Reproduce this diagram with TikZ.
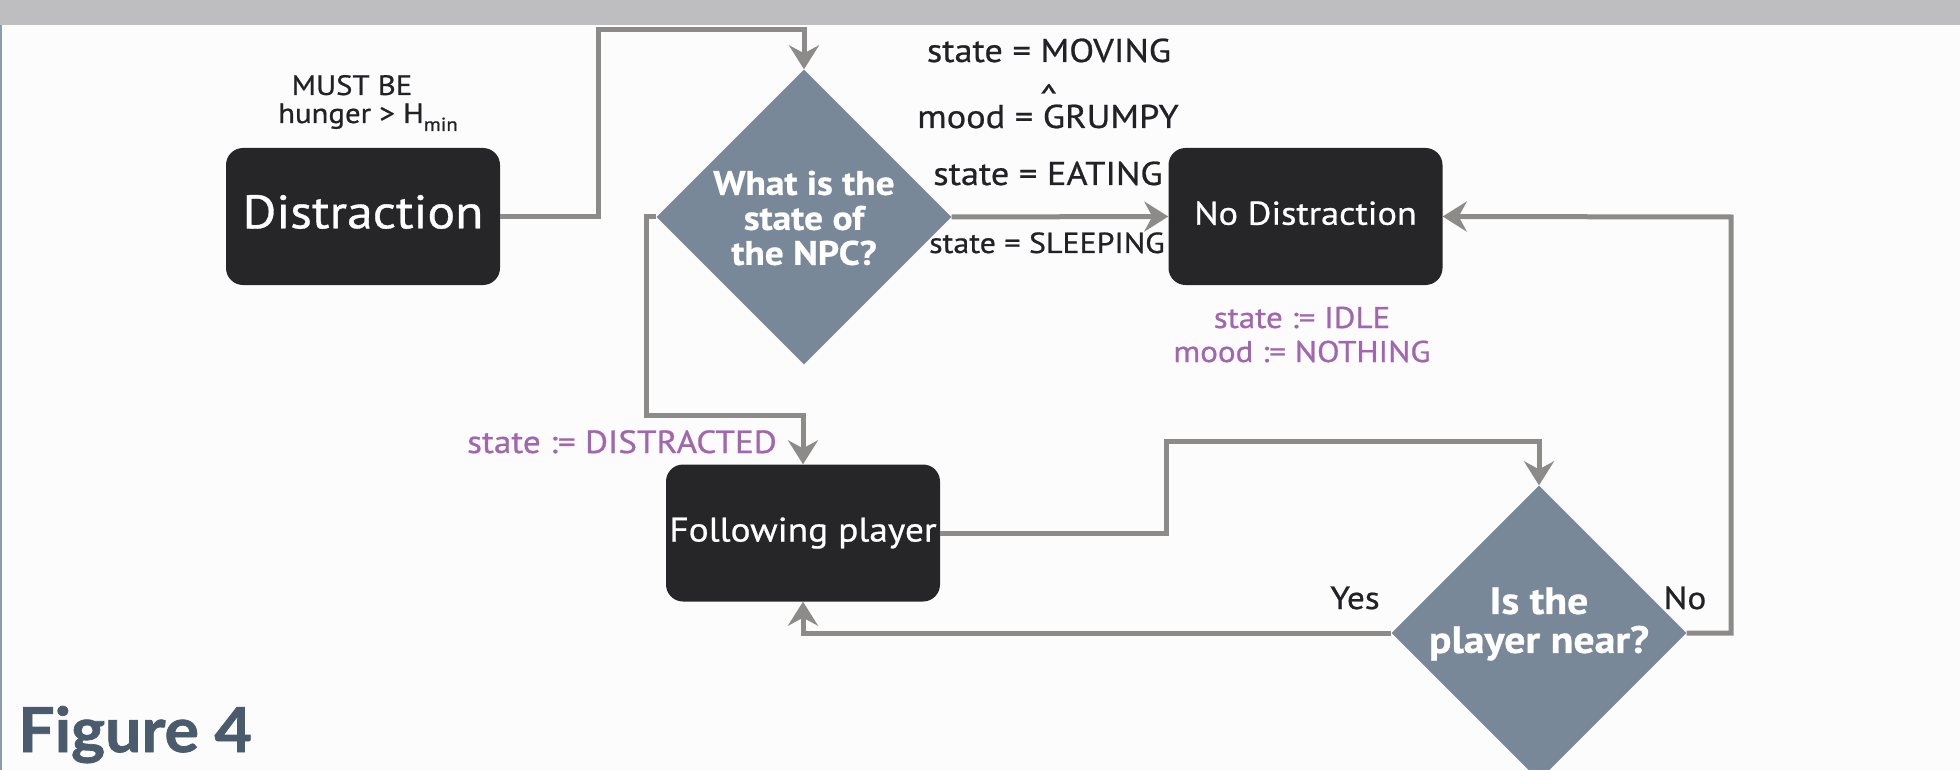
\documentclass[tikz,border=0pt]{standalone}
\usepackage{fontspec}
\setmainfont{PT Sans}[FakeStretch=1.1, FakeBold=0.7]
\newfontfamily\figfont{Lato}[FakeBold=1.2, FakeStretch=1.04]
\usetikzlibrary{shapes.geometric,arrows.meta}
\definecolor{bgc}{HTML}{FCFCFC}
\definecolor{bandc}{HTML}{BEBEC0}
\definecolor{boxc}{HTML}{262528}
\definecolor{diac}{HTML}{798899}
\definecolor{linec}{HTML}{8C8B8A}
\definecolor{txtc}{HTML}{222226}
\definecolor{purpc}{HTML}{A265AF}
\definecolor{figc}{HTML}{4B5B6E}
\definecolor{edgec}{HTML}{8A9AB0}
\newcommand\fsz[1]{\fontsize{#1}{#1}\selectfont}
\begin{document}
\begin{tikzpicture}[x=1pt,y=-1pt,
  box/.style={rounded corners=17pt, fill=boxc, text=white, minimum width=274pt, minimum height=137pt, inner sep=0pt},
  dia/.style={diamond, fill=diac, minimum width=295pt, minimum height=295pt, inner sep=0pt, aspect=1},
  dtext/.style={text=white, align=center, inner sep=0pt},
  conn/.style={draw=linec, line width=5pt},
  arr/.style={conn, -{Stealth[length=24pt,width=30pt,inset=8pt]}},
  lbl/.style={text=txtc, inner sep=0pt, anchor=base},
  plbl/.style={text=purpc, inner sep=0pt, anchor=base}
]
\useasboundingbox (0,0) rectangle (1960,770);
\clip (0,0) rectangle (1960,770);
\fill[bgc] (0,0) rectangle (1960,770);
\fill[bandc] (0,0) rectangle (1960,25);
\fill[edgec] (0,25) rectangle (2,770);

% boxes
\node[box, font=\fsz{47}, text height=33pt, text depth=9.4pt] (dist) at (363,216.5) {Distraction};
\node[box, font=\fsz{33}, text height=23.1pt, text depth=6.6pt] (nodist) at (1305.5,216.5) {No Distraction};
\node[box, font=\fsz{34}, text height=23.8pt, text depth=6.8pt] (follow) at (803,533) {Following player};

% diamonds
\node[dia] (d1) at (804,217) {};
\node[dtext, font=\bfseries\fontsize{34}{35}\selectfont] (d1t) at (804,218) {What is the\\state of\\the NPC?};
\node[dia] (d2) at (1539,633) {};
\node[dtext, font=\bfseries\fontsize{38}{39}\selectfont] (d2t) at (1539,624) {Is the\\player near?};

% labels
\node[lbl, font=\fsz{28}] (must) at (352,95) {MUST BE};
\node[lbl, font=\fsz{28}] (hung) at (368,123) {hunger > H\raisebox{-8pt}{\fsz{19}min}};
\node[lbl, font=\fsz{33}] (lmov) at (1049,62) {state = MOVING};
\node[lbl, font=\fsz{34}] (lcar) at (1049,94) {\raisebox{-0.42em}{\textasciicircum}};
\node[lbl, font=\fsz{33}] (lgru) at (1048,128) {mood = GRUMPY};
\node[lbl, font=\fsz{33}] (leat) at (1048,185) {state = EATING};
\node[lbl, font=\fsz{29}] (lsle) at (1047,253) {state = SLEEPING};
\node[plbl, font=\fsz{30}] (lidle) at (1302,328) {state := IDLE};
\node[plbl, font=\fsz{30}] (lnoth) at (1302,362) {mood := NOTHING};
\node[plbl, font=\fsz{32}] (ldis) at (622,453) {state := DISTRACTED};
\node[lbl, font=\fsz{32}] (lyes) at (1355,609) {Yes};
\node[lbl, font=\fsz{32}] (lno) at (1685,609) {No};
\node[text=figc, inner sep=0pt, anchor=base west, font=\figfont\bfseries\fsz{62}] (fig) at (18,752) {Figure 4};

% connectors
\coordinate (c1) at (598,30);
\coordinate (c2) at (646,415);
\coordinate (c3) at (1166,441);
\coordinate (c4) at (1731,633);
\coordinate (c5) at (1731,217);
\draw[arr] (dist.east) -| (c1) -| (d1.north);
\draw[arr] (d1.east) -- (nodist.west);
\draw[arr] (d1.west) -| (c2) -| (follow.north);
\draw[arr] (follow.east) -| (c3) -| (d2.north);
\draw[arr] (d2.west) -| (follow.south);
\draw[arr] (d2.east) -- (c4) -- (c5) -- (nodist.east);
\end{tikzpicture}
\end{document}
